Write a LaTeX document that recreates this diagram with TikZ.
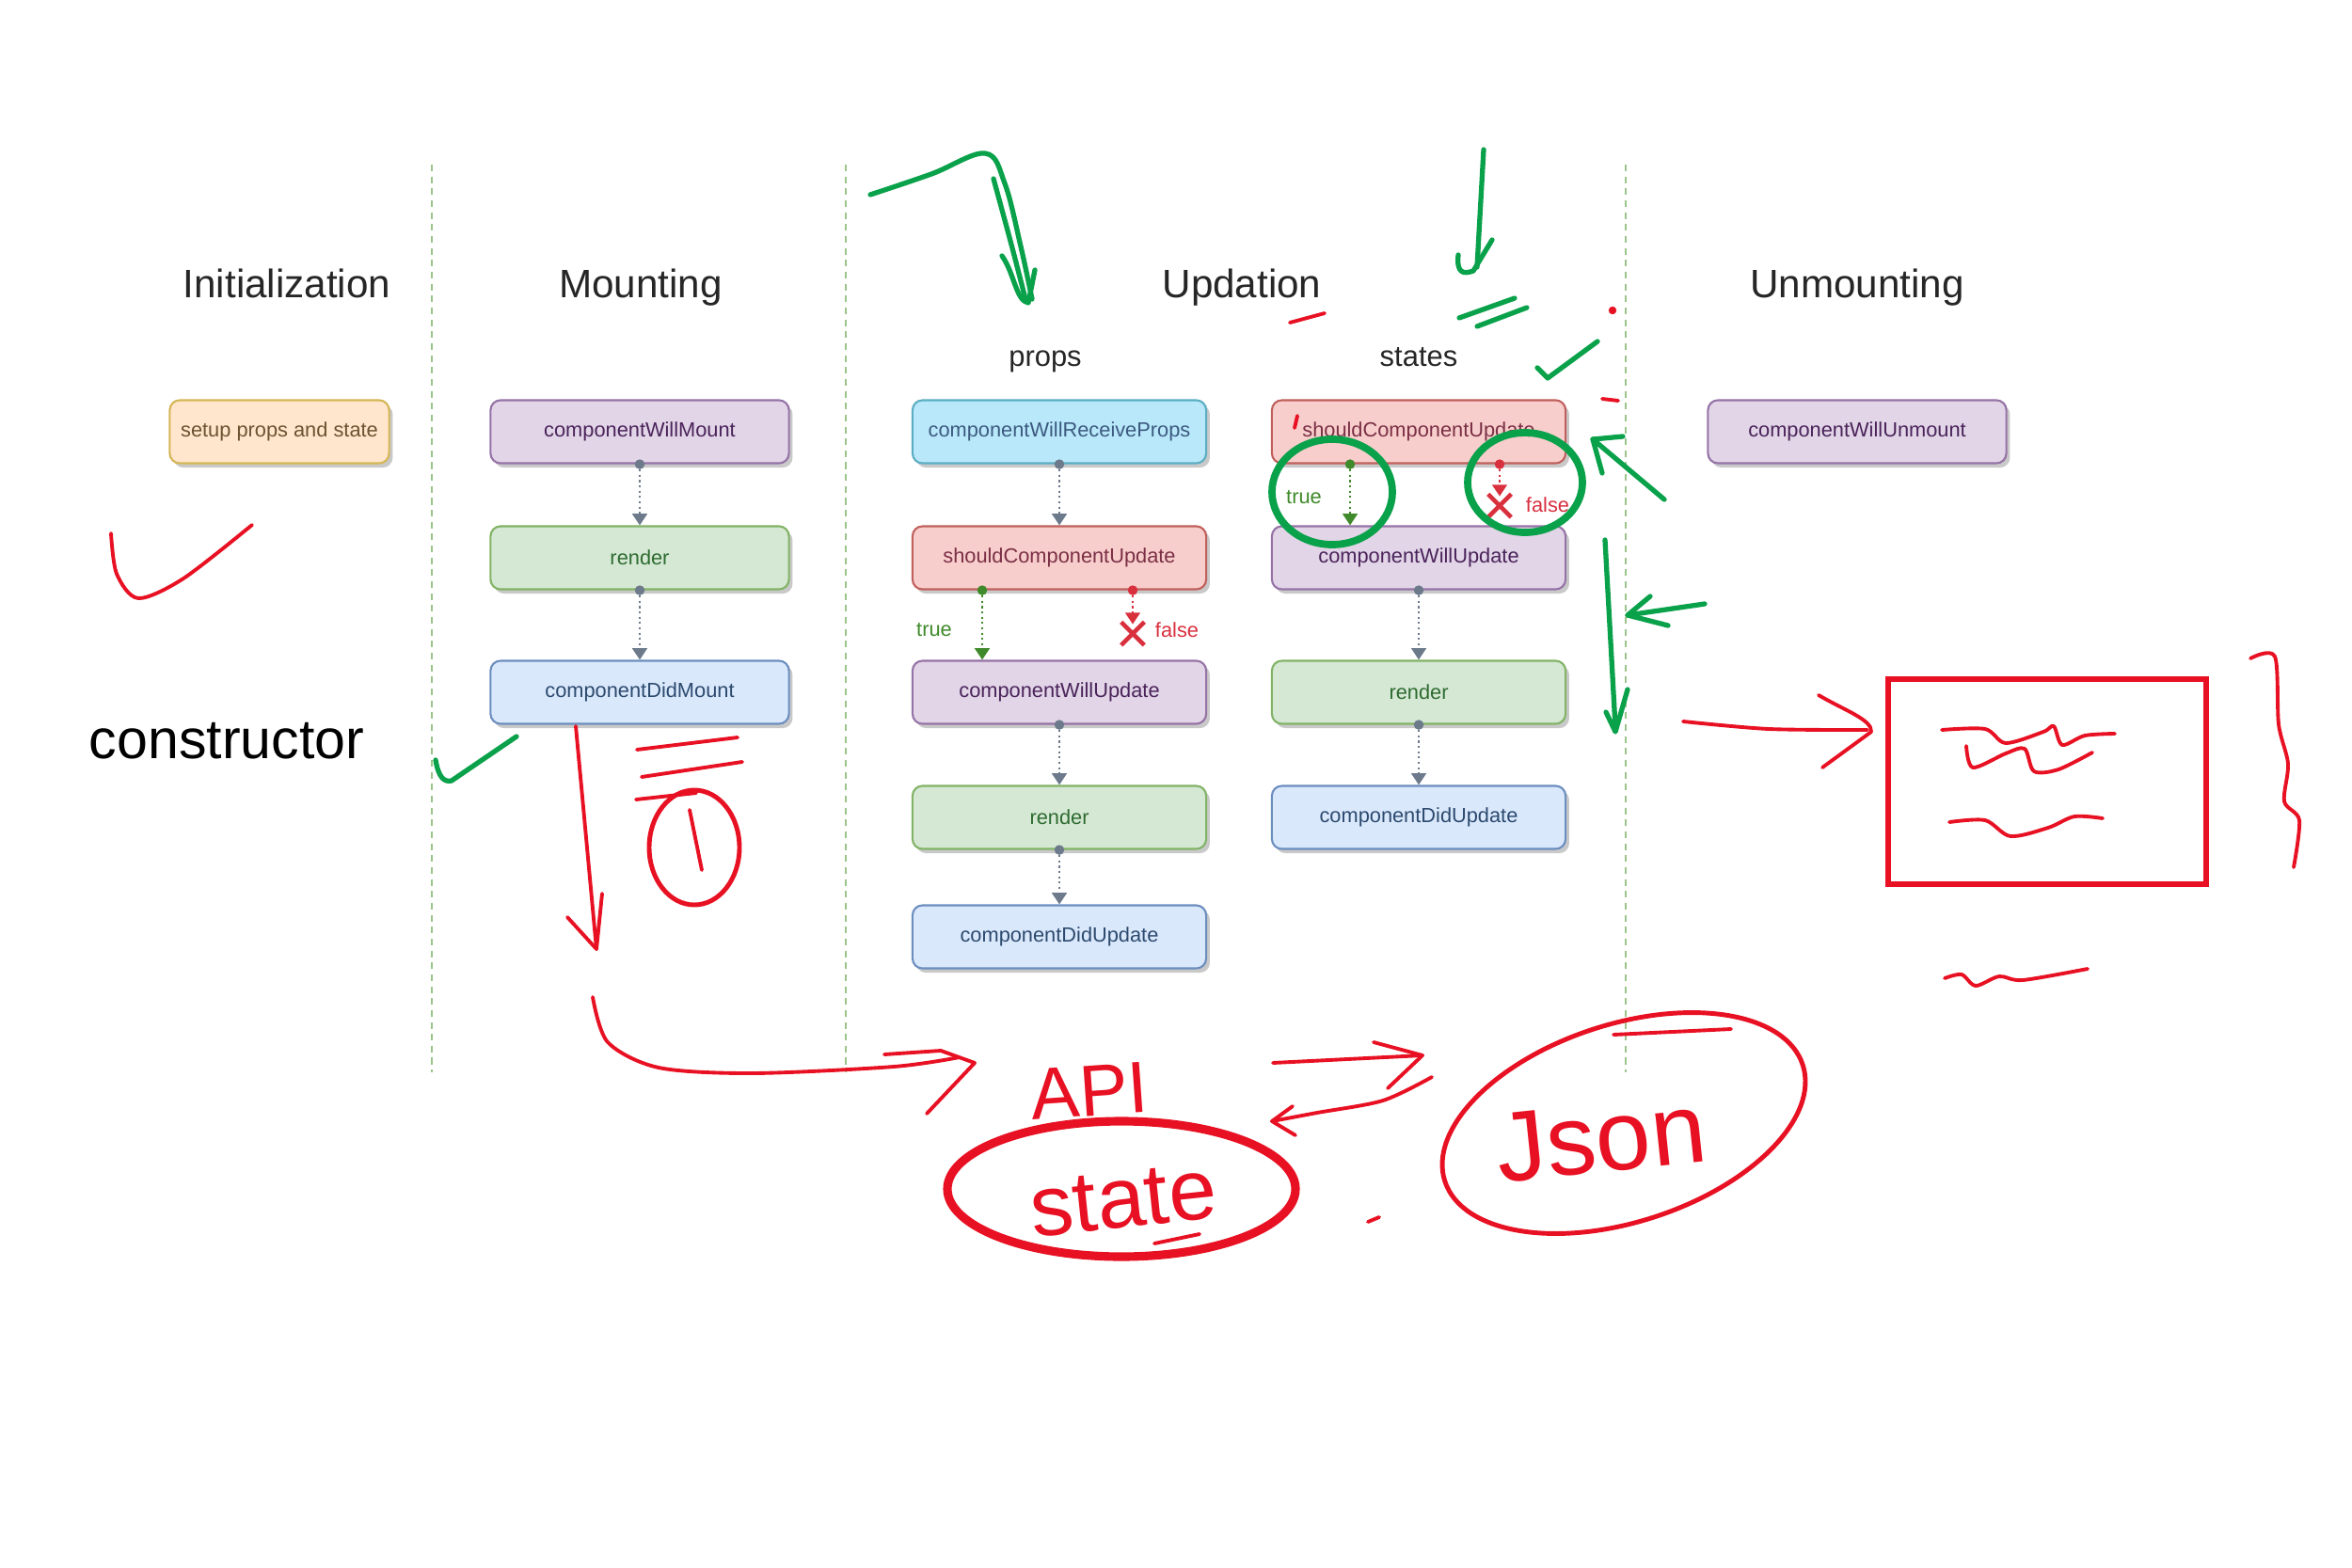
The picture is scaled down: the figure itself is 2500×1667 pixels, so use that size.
\documentclass[tikz,border=0pt]{standalone}
\usepackage{fontspec}
\setmainfont{Liberation Sans}
\usepackage{xcolor}
\definecolor{initfill}{HTML}{FFE6CC}
\definecolor{initdraw}{HTML}{D6B656}
\definecolor{inittext}{HTML}{6B5332}
\definecolor{willfill}{HTML}{E1D5E7}
\definecolor{willdraw}{HTML}{9673A6}
\definecolor{willtext}{HTML}{4A235A}
\definecolor{renderfill}{HTML}{D5E8D4}
\definecolor{renderdraw}{HTML}{82B366}
\definecolor{rendertext}{HTML}{2E6B30}
\definecolor{didfill}{HTML}{DAE8FC}
\definecolor{diddraw}{HTML}{6C8EBF}
\definecolor{didtext}{HTML}{2C4A6E}
\definecolor{recvfill}{HTML}{B8E8FA}
\definecolor{recvdraw}{HTML}{5BAEC2}
\definecolor{recvtext}{HTML}{3D5A80}
\definecolor{shouldfill}{HTML}{F8CECC}
\definecolor{shoulddraw}{HTML}{C0605C}
\definecolor{shouldtext}{HTML}{7A2F45}
\definecolor{flowgray}{HTML}{6C7A8C}
\definecolor{truegreen}{HTML}{3F8A2A}
\definecolor{falsered}{HTML}{D9303E}
\definecolor{guidegreen}{HTML}{9BC48A}
\definecolor{penred}{HTML}{E81123}
\definecolor{pengreen}{HTML}{0AA14B}
\usetikzlibrary{arrows.meta,calc,shadows,shapes.misc}

\begin{document}
\begin{tikzpicture}[x=0.01cm, y=-0.01cm,
    lcbox/.style={rectangle, rounded corners=3pt, line width=0.6pt,
                  minimum width=3.12cm, minimum height=0.67cm, align=center,
                  font=\fontsize{6.2}{7}\selectfont,
                  drop shadow={shadow xshift=1.1pt, shadow yshift=-1.3pt,
                               opacity=0.35, fill=black!60}},
    initbox/.style={lcbox, fill=initfill, draw=initdraw, text=inittext,
                    minimum width=2.28cm},
    willbox/.style={lcbox, fill=willfill, draw=willdraw, text=willtext},
    renderbox/.style={lcbox, fill=renderfill, draw=renderdraw, text=rendertext},
    didbox/.style={lcbox, fill=didfill, draw=diddraw, text=didtext},
    recvbox/.style={lcbox, fill=recvfill, draw=recvdraw, text=recvtext},
    shouldbox/.style={lcbox, fill=shouldfill, draw=shoulddraw, text=shouldtext},
    phase/.style={font=\fontsize{12}{14}\selectfont, text=black!85},
    subphase/.style={font=\fontsize{8.8}{10}\selectfont, text=black!85},
    branchlbl/.style={font=\fontsize{6.2}{7}\selectfont},
    flow/.style={densely dotted, line width=0.6pt, flowgray,
                 -{Triangle[length=3.5pt, width=4.5pt]}},
    stopx/.style={cross out, draw=falsered, line width=1.3pt,
                  minimum size=0.2cm, inner sep=0pt},
    guide/.style={dash pattern=on 2pt off 1.6pt, line width=0.5pt, guidegreen},
    redpen/.style={penred, line width=1.1pt, line cap=round, line join=round},
    greenpen/.style={pengreen, line width=1.5pt, line cap=round, line join=round},
    handtext/.style={text=penred, inner sep=0pt}
  ]
  \fill[white] (0,0) rectangle (2500,1667);

  % Phase separators
  \foreach \gx in {459,899,1728}
    \draw[guide] (\gx,175) -- (\gx,1140);

  % Headings
  \node[phase] (hinit) at (305,301) {Initialization};
  \node[phase] (hmount) at (681,306) {Mounting};
  \node[phase] (hupd) at (1320,306) {Updation};
  \node[phase] (hunmount) at (1974,306) {Unmounting};
  \node[subphase] (hprops) at (1111,384) {props};
  \node[subphase] (hstates) at (1508,380) {states};

  % Lifecycle boxes
  \node[initbox] (setup) at (297,459) {setup props and state};
  \node[willbox, minimum width=3.17cm] (cwm) at (680,459) {componentWillMount};
  \node[renderbox, minimum width=3.17cm] (mrender) at (680,593) {render};
  \node[didbox, minimum width=3.17cm] (cdm) at (680,736) {componentDidMount};
  \node[recvbox] (cwrp) at (1126,459) {componentWillReceiveProps};
  \node[shouldbox] (pscu) at (1126,593) {shouldComponentUpdate};
  \node[willbox] (pcwu) at (1126,736) {componentWillUpdate};
  \node[renderbox] (prender) at (1126,869) {render};
  \node[didbox] (pcdu) at (1126,996) {componentDidUpdate};
  \node[shouldbox] (sscu) at (1508,459) {shouldComponentUpdate};
  \node[willbox] (scwu) at (1508,593) {componentWillUpdate};
  \node[renderbox] (srender) at (1508,736) {render};
  \node[didbox] (scdu) at (1508,869) {componentDidUpdate};
  \node[willbox, minimum width=3.17cm] (cwum) at (1974,459) {componentWillUnmount};

  % Plain flow
  \foreach \from/\to in {cwm/mrender, mrender/cdm, cwrp/pscu, pcwu/prender,
                         prender/pcdu, scwu/srender, srender/scdu} {
    \fill[flowgray] (\from.south) circle (1.5pt);
    \draw[flow] (\from.south) -- (\to.north);
  }

  % true / false under props
  \coordinate (ptrue) at ($(pscu.south)+(-82,0)$);
  \coordinate (pfalse) at ($(pscu.south)+(78,0)$);
  \fill[truegreen] (ptrue) circle (1.5pt);
  \draw[flow, truegreen] (ptrue) -- (ptrue |- pcwu.north);
  \fill[falsered] (pfalse) circle (1.5pt);
  \draw[flow, falsered] (pfalse) -- ++(0,36) coordinate (pstop);
  \node[stopx] (pcross) at ($(pstop)+(0,10)$) {};
  \node[branchlbl, text=truegreen] (ptruelbl) at (993,670) {true};
  \node[branchlbl, text=falsered] (pfalselbl) at (1251,670) {false};

  % true / false under states
  \coordinate (strue) at ($(sscu.south)+(-73,0)$);
  \coordinate (sfalse) at ($(sscu.south)+(86,0)$);
  \fill[truegreen] (strue) circle (1.5pt);
  \draw[flow, truegreen] (strue) -- (strue |- scwu.north);
  \fill[falsered] (sfalse) circle (1.5pt);
  \draw[flow, falsered] (sfalse) -- ++(0,34) coordinate (sstop);
  \node[stopx] (scross) at ($(sstop)+(0,10)$) {};
  \node[branchlbl, text=truegreen] (struelbl) at (1386,529) {true};
  \node[branchlbl, text=falsered] (sfalselbl) at (1645,537) {false};

  % Red pen notes
  \node[handtext, font=\fontsize{16.8}{18}\selectfont, text=black]
    (ctor) at (241,788) {constructor};
  \draw[redpen] plot[smooth] coordinates {(118,567) (124,610) (147,636) (195,615) (268,558)};
  \draw[redpen] (612,772) -- (634,1009);
  \draw[redpen] (603,975) -- (634,1009) -- (640,950);
  \draw[redpen] (677,797) -- (784,784);
  \draw[redpen] (682,826) -- (789,810);
  \draw[redpen] (676,850) -- (740,843);
  \draw[redpen, line width=1.4pt] (738,901) ellipse [x radius=48, y radius=61];
  \draw[redpen] (733,861) -- (746,925);
  \draw[redpen] plot[smooth] coordinates {(630,1060) (646,1108) (700,1135) (800,1141) (950,1134) (1020,1124)};
  \draw[redpen] (940,1121) -- (1000,1117) -- (1036,1130) -- (985,1184);
  \node[handtext, font=\fontsize{22}{24}\selectfont, rotate=4] (api) at (1158,1160) {API};
  \draw[penred, line width=2.6pt] (1192,1264) ellipse [x radius=185, y radius=72];
  \node[handtext, font=\fontsize{26}{28}\selectfont, rotate=6] (stt) at (1194,1276) {state};
  \draw[redpen] (1227,1322) -- (1275,1312);
  \draw[redpen] (1353,1130) -- (1512,1122);
  \draw[redpen] (1460,1108) -- (1512,1122) -- (1475,1157);
  \draw[redpen] plot[smooth] coordinates {(1522,1145) (1470,1170) (1400,1183) (1352,1192)};
  \draw[redpen] (1374,1176) -- (1352,1192) -- (1377,1207);
  \draw[redpen] (1454,1299) -- (1466,1294);
  \draw[redpen, line width=1.4pt, rotate around={18:(1726,1194)}]
    (1726,1194) ellipse [x radius=200, y radius=105];
  \draw[redpen] (1715,1100) -- (1840,1094);
  \node[handtext, font=\fontsize{30}{32}\selectfont, rotate=6] (json) at (1702,1210) {Json};
  \draw[redpen] (1379,442) -- (1376,455);
  \draw[redpen] (1371,343) -- (1408,333);
  \draw[redpen] (1703,424) -- (1720,426);
  \fill[penred] (1714,330) circle (1.2pt);
  \draw[redpen] plot[smooth] coordinates {(1789,767) (1880,775) (1985,776)};
  \draw[redpen] (1933,739) .. controls (1960,755) and (1990,765) .. (1989,778) -- (1937,816);
  \draw[penred, line width=1.8pt, line cap=round] (2007,722) rectangle (2345,940);
  \draw[redpen] plot[smooth] coordinates {(2064,776) (2110,775) (2132,790) (2172,778) (2183,772) (2192,792) (2216,782) (2248,780)};
  \draw[redpen] plot[smooth] coordinates {(2090,793) (2097,816) (2132,801) (2152,796) (2162,820) (2188,818) (2224,800)};
  \draw[redpen] plot[smooth] coordinates {(2072,874) (2110,872) (2137,889) (2177,880) (2205,868) (2235,870)};
  \draw[redpen] plot[smooth] coordinates {(2392,700) (2418,698) (2422,770) (2432,812) (2428,852) (2444,872) (2438,922)};
  \draw[redpen] plot[smooth] coordinates {(2067,1040) (2085,1036) (2100,1048) (2125,1038) (2150,1042) (2219,1030)};

  % Green pen notes
  \draw[greenpen] plot[smooth, tension=0.6] coordinates {(925,207) (990,185) (1047,163) (1068,195) (1085,262) (1097,318)};
  \draw[greenpen] plot[smooth] coordinates {(1056,190) (1075,260) (1090,318)};
  \draw[greenpen] (1065,272) .. controls (1078,290) and (1080,320) .. (1093,322) -- (1100,287);
  \draw[greenpen] (1577,159) -- (1570,284);
  \draw[greenpen] (1550,271) .. controls (1548,290) and (1555,292) .. (1566,288) -- (1586,255);
  \draw[greenpen] (1551,338) -- (1610,317);
  \draw[greenpen] (1570,347) -- (1623,327);
  \draw[greenpen] (1634,391) -- (1645,402) -- (1698,363);
  \draw[greenpen] (463,808) .. controls (466,826) and (472,832) .. (480,830) -- (549,783);
  \draw[greenpen, line width=2.2pt] (1416,523) ellipse [x radius=64, y radius=56];
  \draw[greenpen, line width=2.2pt] (1621,513) ellipse [x radius=61, y radius=53];
  \draw[greenpen] (1769,531) -- (1693,467);
  \draw[greenpen] (1725,464) -- (1693,467) -- (1703,503);
  \draw[greenpen] (1706,574) -- (1717,773);
  \draw[greenpen] (1730,733) -- (1717,778) -- (1707,757);
  \draw[greenpen] (1812,642) -- (1730,654);
  \draw[greenpen] (1754,634) -- (1730,654) -- (1773,665);
\end{tikzpicture}
\end{document}
